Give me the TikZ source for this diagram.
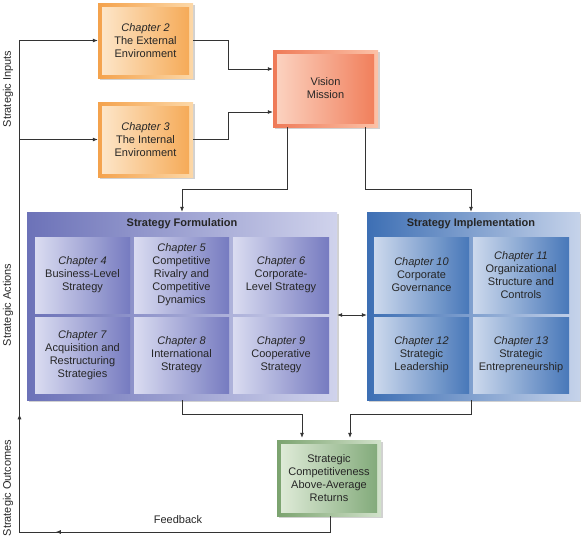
\documentclass[tikz,border=0pt]{standalone}
\usepackage{fontspec}
\setmainfont{Liberation Sans}
\usetikzlibrary{arrows.meta,shadows,decorations.markings,calc}
\definecolor{txtc}{HTML}{262626}
\definecolor{linec}{HTML}{333333}
\definecolor{orA}{HTML}{F4A24C}\definecolor{orB}{HTML}{FCD8A8}
\definecolor{orC}{HTML}{FDE8CD}\definecolor{orD}{HTML}{F5A853}
\definecolor{vsA}{HTML}{EF7A57}\definecolor{vsB}{HTML}{FBC2A8}
\definecolor{vsC}{HTML}{FCD5C3}\definecolor{vsD}{HTML}{F07C58}
\definecolor{grA}{HTML}{7BA36F}\definecolor{grB}{HTML}{D2E2CB}
\definecolor{grC}{HTML}{E2EDDB}\definecolor{grD}{HTML}{7FA877}
\definecolor{sfA}{HTML}{6C72B8}\definecolor{sfB}{HTML}{D0D3EC}
\definecolor{sfC}{HTML}{DADCF1}\definecolor{sfD}{HTML}{767BC0}
\definecolor{siA}{HTML}{3D6FB4}\definecolor{siB}{HTML}{C6D3EA}
\definecolor{siC}{HTML}{CDD9ED}\definecolor{siD}{HTML}{4878B9}
\tikzset{
  txt/.style={align=center,font=\fontsize{11}{13}\selectfont,text=txtc},
  shad/.style={drop shadow={shadow xshift=2pt,shadow yshift=-2pt,fill=black,opacity=0.18}},
  framed/.style n args={4}{rectangle,inner sep=0pt,txt,shad,left color=#1,right color=#2,
    path picture={\shade[left color=#3,right color=#4]
      ([shift={(4pt,4pt)}]path picture bounding box.south west) rectangle
      ([shift={(-4pt,-4pt)}]path picture bounding box.north east);}},
  panel/.style 2 args={rectangle,inner sep=0pt,shad,left color=#1,right color=#2},
  cell/.style 2 args={rectangle,inner sep=0pt,txt,left color=#1,right color=#2,
    minimum height=76pt},
  arr/.style={draw=linec,line width=0.75pt,-{Latex[length=5pt,width=4pt]}},
  dbl/.style={draw=linec,line width=0.75pt,{Latex[length=5pt,width=4pt]}-{Latex[length=5pt,width=4pt]}},
  side/.style={txt,rotate=90},
}
\begin{document}
\begin{tikzpicture}[x=1pt,y=-1pt]
\useasboundingbox (0,0) rectangle (581,539);
% boxes
\node[framed={orA}{orB}{orC}{orD},minimum width=95pt,minimum height=75pt] (ch2) at (145.5,40.5)
  {\textit{Chapter 2}\\The External\\Environment};
\node[framed={orA}{orB}{orC}{orD},minimum width=95pt,minimum height=75pt] (ch3) at (145.5,139.5)
  {\textit{Chapter 3}\\The Internal\\Environment};
\node[framed={vsA}{vsB}{vsC}{vsD},minimum width=105pt,minimum height=77pt] (vis) at (325.5,88.5)
  {Vision\\Mission};
\node[framed={grA}{grB}{grC}{grD},minimum width=104pt,minimum height=76pt] (green) at (329,478)
  {Strategic\\Competitiveness\\Above-Average\\Returns};
% panels
\node[panel={sfA}{sfB},minimum width=310pt,minimum height=188pt] (sf) at (182,306) {};
\node[panel={siA}{siB},minimum width=213pt,minimum height=188pt] (si) at (473.5,306) {};
\node[txt,font=\fontsize{11}{13}\selectfont\bfseries] (sft) at (182,224) {Strategy Formulation};
\node[txt,font=\fontsize{11}{13}\selectfont\bfseries] (sit) at (471,224) {Strategy Implementation};
% formulation cells
\node[cell={sfC}{sfD},minimum width=95pt] (c4) at (82.5,275) {\textit{Chapter 4}\\Business-Level\\Strategy};
\node[cell={sfC}{sfD},minimum width=95pt] (c5) at (181.5,275) {\textit{Chapter 5}\\Competitive\\Rivalry and\\Competitive\\Dynamics};
\node[cell={sfC}{sfD},minimum width=96pt] (c6) at (281,275) {\textit{Chapter 6}\\Corporate-\\Level Strategy};
\node[cell={sfC}{sfD},minimum width=95pt] (c7) at (82.5,355) {\textit{Chapter 7}\\Acquisition and\\Restructuring\\Strategies};
\node[cell={sfC}{sfD},minimum width=95pt] (c8) at (181.5,355) {\textit{Chapter 8}\\International\\Strategy};
\node[cell={sfC}{sfD},minimum width=96pt] (c9) at (281,355) {\textit{Chapter 9}\\Cooperative\\Strategy};
% implementation cells
\node[cell={siC}{siD},minimum width=95pt] (c10) at (421.5,275) {\textit{Chapter 10}\\Corporate\\Governance};
\node[cell={siC}{siD},minimum width=96pt] (c11) at (521,275) {\textit{Chapter 11}\\Organizational\\Structure and\\Controls};
\node[cell={siC}{siD},minimum width=95pt] (c12) at (421.5,355) {\textit{Chapter 12}\\Strategic\\Leadership};
\node[cell={siC}{siD},minimum width=96pt] (c13) at (521,355) {\textit{Chapter 13}\\Strategic\\Entrepreneurship};
% side labels
\node[side] (lin) at (8,89) {Strategic Inputs};
\node[side] (lact) at (8,305) {Strategic Actions};
\node[side] (lout) at (8,488) {Strategic Outcomes};
\node[txt] (fb) at (178,520) {Feedback};
% connectors
\draw[arr] (ch2.east) -- (228,40.5) |- ($(vis.west)+(0,-19.5)$);
\draw[arr] (ch3.east) -- (228,139.5) |- ($(vis.west)+(0,23.5)$);
\draw[arr] ($(vis.south)+(-38.5,0)$) -- (287,189) -| (sf.north);
\draw[arr] ($(vis.south)+(39.5,0)$) -- (365,189) -| ($(si.north)+(-2.5,0)$);
\draw[dbl] ($(sf.east)+(0,9)$) -- ($(si.west)+(0,9)$);
\draw[arr] (sf.south) -- (182,414) -| ($(green.north)+(-27,-2)$);
\draw[arr] ($(si.south)+(-2.5,0)$) -- (471,414) -| ($(green.north)+(21,-2)$);
\coordinate (br) at (19.5,139.5);
\draw[arr,postaction={decorate},decoration={markings,
    mark=at position 290pt with {\arrow{Latex[length=5pt,width=4pt]}},
    mark=at position 444pt with {\arrow{Latex[length=5pt,width=4pt]}}}]
  ($(green.south)+(1,0)$) -- (330,532) -- (19.5,532) -- (19.5,40.5) -- (ch2.west);
\draw[arr] (br) -- (ch3.west);
\end{tikzpicture}
\end{document}
